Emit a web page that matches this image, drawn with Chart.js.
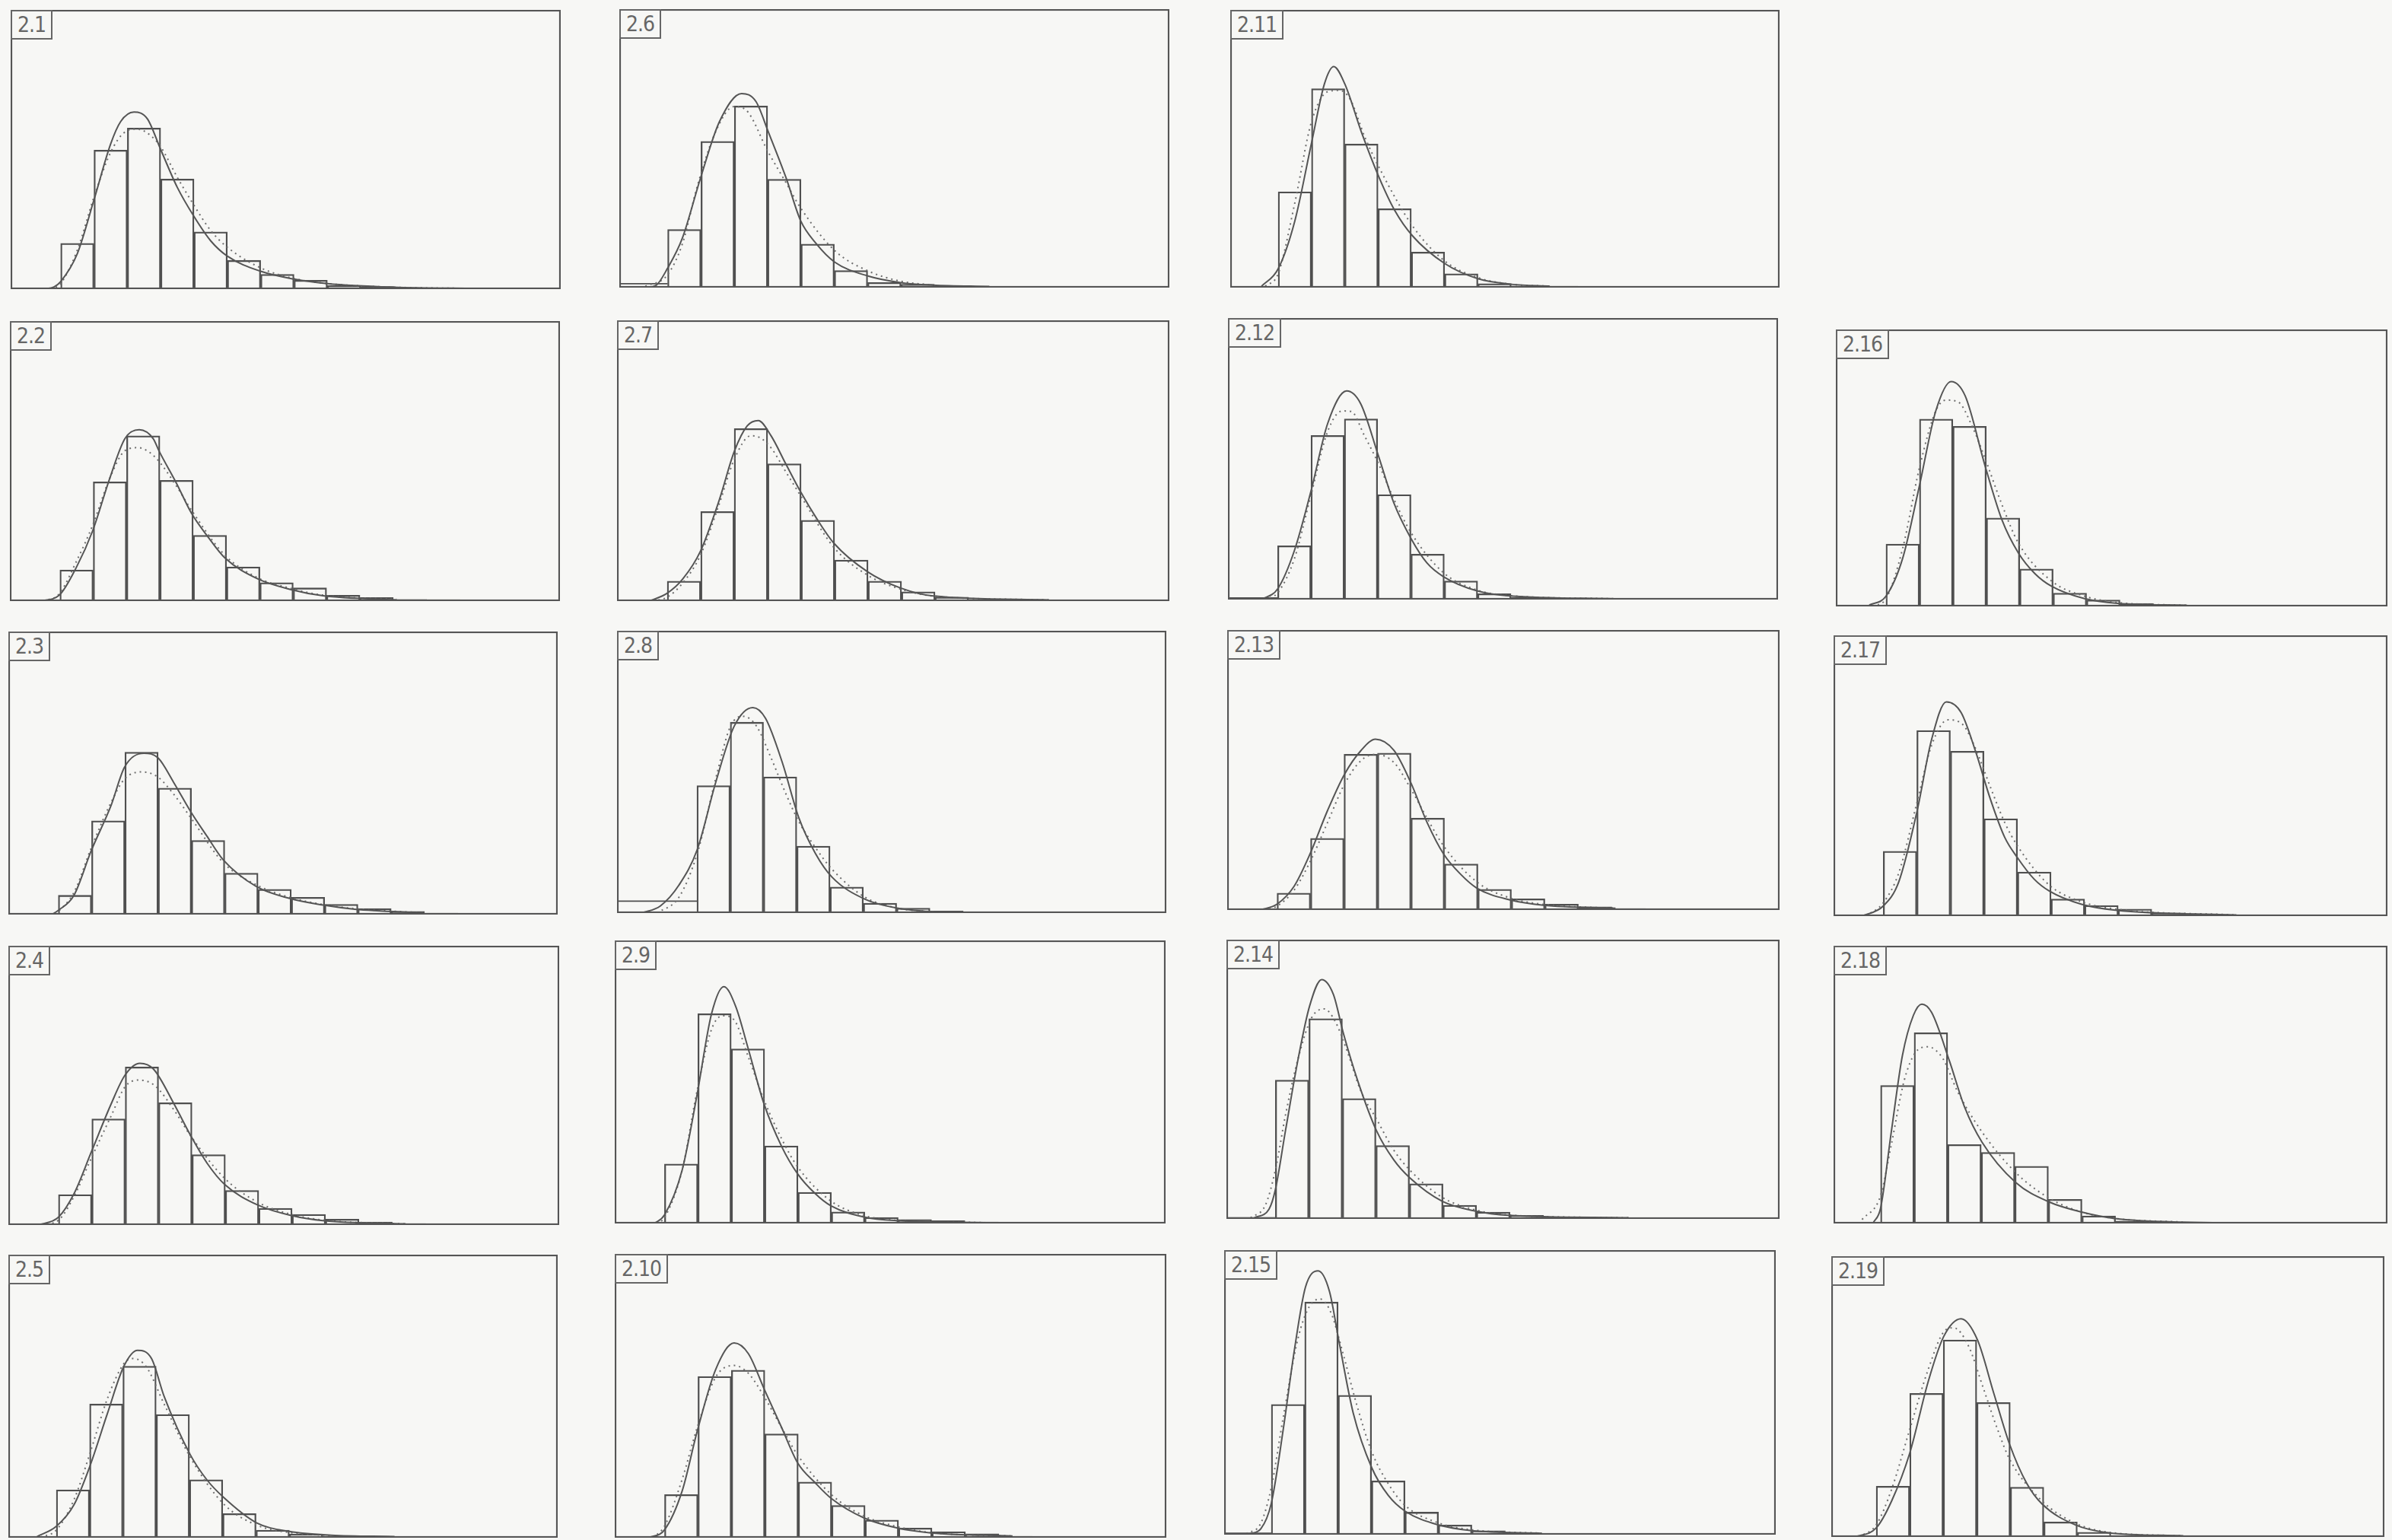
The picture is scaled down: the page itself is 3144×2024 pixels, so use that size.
<!DOCTYPE html>
<html>
<head>
<meta charset="utf-8">
<script src="https://cdn.jsdelivr.net/npm/chart.js@4.4.1/dist/chart.umd.min.js"></script>
<style>
  html, body { margin: 0; padding: 0; background: #f7f7f5; }
  #page { position: relative; width: 3144px; height: 2024px; overflow: hidden; }
  .panel { position: absolute; }
  .panel canvas { position: absolute; left: 0; top: 0; }
  .tag {
    position: absolute; left: 0; top: 0;
    border: 2px solid #666; background: #f7f7f5;
    font-family: "DejaVu Sans Condensed", "Liberation Sans Narrow", "DejaVu Sans", sans-serif;
    font-size: 28px; line-height: 35px; color: #666;
    padding: 0 7px; letter-spacing: -1px;
  }
</style>
</head>
<body>
<div id="page"></div>
<script>
// panel numbers, in the order of the data below
var panelLabels = ["2.1", "2.2", "2.3", "2.4", "2.5", "2.6", "2.7", "2.8", "2.9", "2.10",
                   "2.11", "2.12", "2.13", "2.14", "2.15", "2.16", "2.17", "2.18", "2.19"];

// left edge of the first class, in class widths (axis runs 0..16.5)
var binStart = [1.5, 1.5, 1.5, 1.5, 1.44, 1.45, 1.5, 2.4, 1.49, 1.49,
                1.44, 1.49, 1.49, 1.46, 1.41, 1.5, 1.48, 1.4, 1.34];

// height of the open lower class (from the axis start to binStart), 0 = none
var openClass = [0, 0, 0, 0, 0, 1.4, 0, 4.2, 0, 0,
                 0, 0.6, 0, 0.4, 0.5, 0, 0, 0, 0];

// histogram heights (% of panel height)
var barHeights = [
  [16.4, 49.8, 57.7, 39.4, 20.5, 10.3, 5.3, 3.2, 1.3, 0.9, 0.4, 0.4, 0.3],
  [11.1, 42.6, 59, 43.1, 23.5, 12.2, 6.6, 4.7, 2.1, 1.3, 0.6, 0.5],
  [6.8, 33.1, 57.4, 44.7, 26.2, 14.6, 8.9, 6.1, 3.6, 2.1, 1.1, 0.5, 0.4],
  [10.9, 38, 56.6, 43.8, 25.2, 12.4, 6, 3.8, 2.1, 1.1, 0.5, 0.4],
  [16.9, 47.2, 60.6, 43.5, 20.5, 8.5, 2.7, 1.3, 0.6, 0.5, 0.4],
  [20.9, 52.5, 65.2, 38.9, 15.6, 6.1, 1.8, 1.2, 0.5, 0.4],
  [7.1, 31.9, 61.4, 48.9, 28.8, 14.6, 7.1, 3.3, 1.4, 0.6, 0.5, 0.4],
  [45.1, 67.6, 48.2, 23.7, 9.2, 3.5, 1.7, 0.7],
  [21, 74.1, 61.7, 27.4, 11, 4.1, 2.1, 1.4, 1.0, 0.5],
  [15.2, 56.8, 59, 36.6, 19.6, 11.4, 6.2, 3.4, 2.1, 1.4, 0.5, 0.4],
  [34.5, 71.6, 51.7, 28.4, 12.8, 5.0, 1.4, 0.6, 0.5, 0.4],
  [19.1, 58.3, 64.2, 37.3, 16.1, 6.6, 2.1, 0.7, 0.5, 0.4],
  [6, 25.6, 55.6, 56, 32.8, 16.4, 7.4, 4, 2.1, 1.1, 0.5],
  [49.7, 71.7, 43.1, 26.3, 12.6, 4.9, 2.4, 1.3, 0.5, 0.4],
  [45.8, 81.7, 49, 18.9, 7.9, 3.4, 1.4, 0.7, 0.4],
  [22.5, 67.6, 65, 31.9, 13.5, 4.8, 2.3, 1.1, 0.5, 0.4],
  [23.1, 66.1, 58.7, 34.7, 15.7, 6.1, 3.8, 2.5, 1.1, 0.4],
  [49.7, 68.7, 28.4, 25.6, 20.6, 8.7, 2.7, 0.9, 0.5, 0.4],
  [18.1, 51.1, 70.2, 47.9, 17.7, 5.3, 1.7, 0.5, 0.4]
];

// fitted curve, solid line: [class position, height]
var solidCurves = [
  [[1.0,0],[1.3,0.8],[1.5,2.7],[2.0,12.7],[2.5,32],[3.0,52],[3.3,60],[3.7,63.4],[4.1,61],[4.5,50],[5.0,36.4],[5.5,26],[6.0,17.3],[6.5,11.8],[7.5,6.4],[8.5,3.6],[9.5,2.0],[11.5,0.7],[14,0.2]],
  [[0.9,0],[1.48,2.1],[2.0,12.2],[2.48,25],[3.0,44],[3.45,58],[3.88,61.2],[4.3,58],[4.47,53.7],[5.0,42],[5.45,31.3],[5.95,22.8],[6.45,15.4],[7.44,7.9],[8.44,4.1],[9.4,1.9],[11.6,0.4]],
  [[1.3,0],[1.5,1.5],[1.97,6.8],[2.49,22.6],[3.08,38.4],[3.49,52.1],[4.07,57],[4.5,55.3],[4.96,46.8],[5.48,36.3],[5.96,27.8],[6.45,19.4],[7.45,9.9],[8.45,5.7],[9.42,3.4],[10.4,1.9],[12.5,0.6]],
  [[0.9,0],[1.5,2.8],[1.97,11.3],[2.49,26.3],[3.08,43.4],[3.49,53.6],[3.94,57.9],[4.35,55.8],[4.96,43.4],[5.48,31.6],[5.96,22],[6.48,14.5],[7.48,7.1],[8.47,3.4],[9.47,1.5],[11.9,0.4]],
  [[0.86,0.4],[1.44,4],[1.97,11.6],[2.44,25],[2.97,43.7],[3.47,60.6],[3.88,66.2],[4.3,63.3],[4.68,49.9],[5.46,29.4],[5.96,20.5],[6.46,14.3],[7.45,5.3],[8.45,2.2],[9.7,0.9],[11.6,0.4]],
  [[0.78,0],[1.1,0.8],[1.44,6.8],[1.89,17.7],[2.44,39.5],[3.0,59.5],[3.67,69.7],[4.1,66.8],[4.47,55.9],[5.0,39.5],[5.44,24],[5.9,15.9],[6.47,9.1],[7.48,4.1],[8.44,1.8],[9.4,0.9],[11.1,0.4]],
  [[0.97,0],[1.5,2.8],[1.96,7.8],[2.49,17.7],[3.06,36.2],[3.5,53.2],[3.89,62.4],[4.22,64.3],[4.6,58.9],[5.04,48.9],[5.48,39],[5.98,29.1],[6.48,20.6],[7.49,10.4],[8.46,4.7],[9.45,1.8],[12.9,0.4]],
  [[0.75,0],[1.3,2.5],[1.86,9.9],[2.41,22.5],[2.97,46.5],[3.52,66.2],[4.08,72.8],[4.46,69],[4.96,53.5],[5.46,33.8],[5.96,21.1],[6.46,12.7],[7.45,4.9],[8.45,1.7],[9.5,0.4]],
  [[1.19,0],[1.49,3],[2.02,18.9],[2.46,45.1],[2.9,74.1],[3.27,83.7],[3.62,76.8],[4.0,61.7],[4.47,42.3],[5.0,27.2],[5.48,17.5],[6.0,10.6],[6.48,6.2],[7.47,2.3],[8.46,1.0],[11.1,0.3]],
  [[1.03,0],[1.49,2.8],[2.02,16.6],[2.46,37.2],[3.02,59.3],[3.57,68.6],[4.0,64.8],[4.47,52.4],[5.0,38.6],[5.48,26.2],[6.0,19.3],[6.48,13.8],[7.47,6.9],[8.46,3.4],[9.46,1.7],[11.9,0.6]],
  [[0.94,0.5],[1.44,6.8],[1.94,24],[2.44,52],[2.83,73.4],[3.11,79.6],[3.44,73.4],[3.94,56],[4.47,39.7],[4.94,27.8],[5.47,18.7],[6.44,8.7],[7.44,3.2],[8.44,1.2],[9.6,0.5]],
  [[1.0,0],[1.49,3.8],[1.99,17.3],[2.49,38.5],[2.99,62.5],[3.56,74.1],[3.98,69.6],[4.51,51.2],[4.98,34.2],[5.5,21.5],[5.97,13],[6.47,8.1],[7.47,3.1],[8.46,1.3],[11.6,0.3]],
  [[1.0,0],[1.49,2.1],[2.0,8.5],[2.47,19.9],[3.0,35.6],[3.5,48.4],[4.0,57],[4.43,61],[4.98,57],[5.48,45.6],[5.97,31.3],[6.47,19.9],[6.97,12.8],[7.46,7.8],[8.45,3.6],[9.45,1.7],[11.6,0.6]],
  [[0.83,0.4],[1.27,3.5],[1.46,10.5],[1.76,31.5],[2.15,58],[2.48,76.2],[2.84,85.7],[3.19,80.4],[3.49,66.4],[3.91,49.7],[4.48,31.5],[5.0,21],[5.47,14.7],[6.44,6.3],[7.43,2.8],[8.42,1.3],[12,0.4]],
  [[0.77,0.3],[1.1,2.1],[1.41,11],[1.77,37.2],[2.1,64.8],[2.43,86.9],[2.81,92.7],[3.15,85.5],[3.44,67.6],[3.86,42.8],[4.42,23.4],[4.91,13.8],[5.41,8.3],[6.42,3.4],[7.42,1.4],[9.5,0.5]],
  [[1.0,0.5],[1.5,3.7],[2.0,17.4],[2.49,43],[2.99,70.6],[3.45,81.2],[3.87,76],[4.47,50.5],[4.97,31.2],[5.46,19.3],[5.95,11.9],[6.45,7.3],[7.44,2.8],[8.43,1.1],[10.5,0.4]],
  [[0.85,0],[1.48,3.6],[1.94,12.1],[2.49,37.5],[2.92,62.9],[3.36,76.3],[3.8,72.5],[4.23,58.7],[4.67,41.7],[5.1,28],[5.49,20.6],[5.98,13.1],[6.43,8.9],[7.39,4.2],[8.4,2.1],[12,0.4]],
  [[1.18,0.2],[1.4,5.5],[1.72,33],[2.05,60.4],[2.38,75],[2.63,79],[2.92,76],[3.45,58.6],[3.9,42],[4.42,29.3],[5.43,14.7],[6.41,7.8],[7.39,4.1],[8.38,1.8],[10.4,0.5],[14.8,0]],
  [[0.71,0],[1.34,3.2],[1.8,12.8],[2.34,29.8],[2.89,55.3],[3.35,71.3],[3.87,77.7],[4.36,70.2],[4.85,51.1],[5.32,33],[5.83,19.1],[6.29,11.7],[7.28,4.3],[8.27,1.5],[10.5,0.4]]
];

// second fitted curve, dotted line
var dottedCurves = [
  [[1.2,0],[1.5,2],[2.0,14],[2.5,33],[3.0,49],[3.4,56],[3.8,57.3],[4.2,55],[4.5,51],[5.0,40],[5.5,30],[6.0,21],[6.5,15],[7.5,7.6],[8.5,3.8],[9.5,2],[11.5,0.7],[14,0.2]],
  [[1.0,0],[1.48,2.6],[2.0,14.3],[2.48,27],[3.0,44],[3.45,53.7],[3.84,54.8],[4.34,51.6],[5.0,41],[5.45,32.4],[6.45,16.4],[7.44,8.3],[8.44,4.5],[9.4,2.1],[11.6,0.6]],
  [[1.42,0],[1.97,7.8],[2.49,23.6],[3.08,39.5],[3.49,47.9],[4.02,50.4],[4.5,48.5],[4.96,42.6],[5.48,34.2],[6.45,18.4],[7.45,10.5],[8.45,6.1],[9.42,3.6],[10.4,2.1],[12.5,0.6]],
  [[1.0,0],[1.5,1.7],[1.97,10.3],[2.49,24.1],[3.08,39.1],[3.49,49.4],[3.9,51.9],[4.4,49.8],[4.96,41.2],[5.48,31.6],[6.48,16.7],[7.48,8.1],[8.47,3.8],[9.47,1.7],[11.9,0.4]],
  [[0.97,0.2],[1.44,2.7],[1.97,13.4],[2.44,29.4],[2.97,49],[3.47,61.5],[3.74,63.3],[4.13,60.6],[4.68,47.2],[5.46,28.5],[6.46,12],[7.45,4.5],[8.45,1.8],[9.7,0.7]],
  [[0.78,0.5],[1.44,4.5],[1.9,16],[2.33,36],[2.89,56],[3.44,65],[3.78,64],[4.47,48.6],[5.0,37.7],[5.44,28.6],[6.47,13.2],[7.48,5.9],[8.44,2.3],[9.4,0.9]],
  [[1.08,0],[1.5,1.4],[1.96,6.4],[2.49,16.3],[3.06,34.8],[3.5,50.4],[4.0,58.9],[4.27,58.2],[4.6,54.6],[5.04,46.1],[5.48,37.6],[6.48,19.1],[7.49,9.2],[8.46,4.3],[9.45,1.8],[12.9,0.4]],
  [[1.2,0],[1.86,5.6],[2.41,21.1],[2.97,47.9],[3.41,66.2],[3.8,69.7],[4.19,66.2],[4.63,54.9],[5.07,42.3],[5.46,32.4],[5.96,23.2],[6.46,15.5],[7.45,5.6],[8.45,1.7],[9.5,0.4]],
  [[1.25,0],[1.49,2.1],[2.02,18.9],[2.46,46.5],[2.9,68.6],[3.24,73.4],[3.57,72],[4.0,58.9],[4.47,43.7],[5.0,29.9],[5.48,20],[6.48,7.9],[7.47,2.8],[8.46,1.1],[11.1,0.3]],
  [[1.14,0],[1.49,4.1],[2.02,20.7],[2.46,38.6],[3.02,56.6],[3.57,60.7],[4.0,57.9],[4.47,49.7],[5.0,38.6],[5.48,29],[6.48,15.2],[7.47,7.6],[8.46,3.9],[9.46,1.8],[11.9,0.6]],
  [[1.05,0.5],[1.44,5],[1.94,30.5],[2.44,59.7],[2.94,70.6],[3.28,71],[3.6,67.9],[4.05,54],[4.47,43.3],[5.47,22.3],[6.44,9.6],[7.44,3.6],[8.44,1.2],[9.6,0.5]],
  [[1.1,0],[1.49,2.4],[1.99,14.4],[2.49,37.1],[2.99,59.7],[3.43,67],[3.7,66.8],[4.09,58.3],[4.51,48.4],[4.98,35.6],[5.5,23.6],[6.47,9.5],[7.47,3.4],[8.46,1.4],[11.6,0.3]],
  [[1.1,0],[1.49,1.4],[2.0,7.1],[2.47,17.1],[3.0,31.3],[3.5,44.9],[4.0,53.4],[4.43,55.6],[4.98,52.7],[5.48,43.4],[5.97,32.8],[6.47,22.8],[7.46,10],[8.45,4.3],[9.45,2],[11.6,0.6]],
  [[0.72,0.4],[1.16,4.9],[1.46,17.5],[1.76,37.1],[2.15,58],[2.54,72],[2.92,75.2],[3.25,70.6],[3.58,60.8],[4.02,45.5],[4.48,35.7],[5.0,24.5],[5.47,17.5],[6.44,7.7],[7.43,3.2],[8.42,1.4],[12,0.4]],
  [[0.66,0.3],[1.1,4.1],[1.41,16.6],[1.77,41.4],[2.21,69],[2.54,80],[2.87,82.8],[3.2,77.9],[3.53,64.8],[3.97,45.5],[4.42,29],[4.91,17.9],[5.41,10.3],[6.42,4.1],[7.42,1.7],[9.5,0.5]],
  [[1.1,0],[1.5,2.8],[2.0,21],[2.49,49.5],[2.99,70.6],[3.3,74.5],[3.65,73.9],[4.08,65],[4.47,53.2],[4.97,36.7],[5.46,22.9],[6.45,9.2],[7.44,3.7],[8.43,1.4],[10.5,0.4]],
  [[0.96,0],[1.48,4.7],[1.94,15.3],[2.49,40.7],[2.92,60.8],[3.41,69.9],[3.85,68.2],[4.23,59.7],[4.67,46],[5.1,33.3],[5.49,24.8],[6.43,11],[7.39,5.1],[8.4,2.5],[12,0.4]],
  [[0.85,1.4],[1.4,10],[1.72,28.4],[2.1,51.3],[2.43,61.4],[2.81,63.6],[3.25,59.5],[3.69,47.6],[4.42,33],[5.43,18.3],[6.41,9.2],[7.39,4.1],[8.38,1.8],[10.4,0.5]],
  [[0.82,0],[1.34,4.3],[1.8,17],[2.34,38.3],[2.89,59.6],[3.38,73.4],[3.65,74.5],[4.09,68.1],[4.53,53.2],[4.96,38.3],[5.32,27.7],[6.29,12.8],[7.28,4.9],[8.27,1.7],[10.5,0.4]]
];

// where each panel sits on the page: left, top, width, height (px)
var panelBoxes = [
  [14, 13, 723, 367], [13, 422, 723, 368], [11, 830, 722, 372], [11, 1243, 724, 367], [11, 1649, 722, 372],
  [814, 12, 723, 366], [811, 421, 726, 369], [811, 829, 722, 371], [808, 1236, 724, 372], [808, 1648, 725, 373],
  [1617, 13, 722, 365], [1614, 418, 723, 370], [1613, 828, 726, 368], [1612, 1235, 727, 367], [1609, 1643, 725, 374],
  [2413, 433, 725, 364], [2410, 835, 728, 369], [2410, 1243, 728, 365], [2407, 1651, 727, 369]
];

var ink = "#4f4f4f";

// plain box round the plot area
var framePlugin = {
  id: "frame",
  afterDraw: function (chart) {
    var a = chart.chartArea, ctx = chart.ctx;
    ctx.save();
    ctx.strokeStyle = "#555";
    ctx.lineWidth = 2.2;
    ctx.strokeRect(a.left + 1, a.top + 1, a.right - a.left - 2, a.bottom - a.top - 2);
    ctx.restore();
  }
};

function toPoints(pairs) {
  return pairs.map(function (p) { return { x: p[0], y: p[1] }; });
}

var page = document.getElementById("page");

panelLabels.forEach(function (label, i) {
  var box = panelBoxes[i];
  var div = document.createElement("div");
  div.className = "panel";
  div.style.left = box[0] + "px";
  div.style.top = box[1] + "px";
  div.style.width = box[2] + "px";
  div.style.height = box[3] + "px";
  var cv = document.createElement("canvas");
  cv.width = box[2];
  cv.height = box[3];
  div.appendChild(cv);
  var tag = document.createElement("div");
  tag.className = "tag";
  tag.textContent = label;
  div.appendChild(tag);
  page.appendChild(div);

  var bars = barHeights[i].map(function (h, k) {
    return { x: binStart[i] + 0.5 + k, y: h };
  });

  var datasets = [
    {
      type: "bar",
      data: bars,
      backgroundColor: "rgba(0,0,0,0)",
      borderColor: ink,
      borderWidth: 1.6,
      borderSkipped: false,
      barPercentage: 1,
      categoryPercentage: 1,
      order: 3
    },
    {
      type: "line",
      data: toPoints(solidCurves[i]),
      borderColor: "#555",
      borderWidth: 2,
      pointRadius: 0,
      cubicInterpolationMode: "monotone",
      fill: false,
      order: 1
    },
    {
      type: "line",
      data: toPoints(dottedCurves[i]),
      borderColor: "#6f6f6f",
      borderWidth: 2,
      borderDash: [2, 5],
      pointRadius: 0,
      cubicInterpolationMode: "monotone",
      fill: false,
      order: 2
    }
  ];

  if (openClass[i] > 0) {
    datasets.push({
      type: "line",
      data: [{ x: 0, y: openClass[i] }, { x: binStart[i], y: openClass[i] }],
      borderColor: ink,
      borderWidth: 1.7,
      pointRadius: 0,
      fill: false,
      order: 4
    });
  }

  new Chart(cv, {
    type: "bar",
    data: { datasets: datasets },
    options: {
      responsive: false,
      animation: false,
      events: [],
      layout: { padding: 0 },
      plugins: { legend: { display: false }, tooltip: { enabled: false } },
      scales: {
        x: { type: "linear", min: 0, max: 16.5, offset: false, display: false },
        y: { type: "linear", min: 0, max: 100, display: false }
      }
    },
    plugins: [framePlugin]
  });
});
</script>
</body>
</html>
